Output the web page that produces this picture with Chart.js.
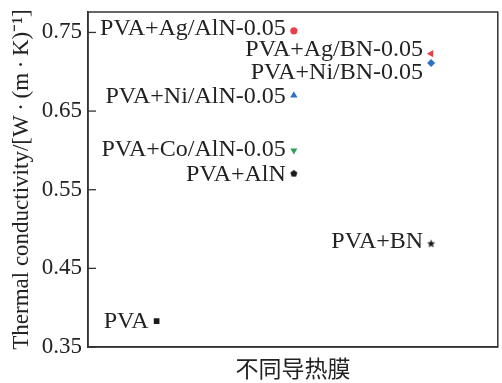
<!DOCTYPE html>
<html>
<head>
<meta charset="utf-8">
<script src="https://cdn.jsdelivr.net/npm/chart.js@4.4.0/dist/chart.umd.min.js"></script>
<style>
html,body{margin:0;padding:0;background:#fff;}
#wrap{width:502px;height:383px;position:relative;}
</style>
</head>
<body>
<div id="wrap"><canvas id="c" width="502" height="383"></canvas></div>
<script>
// ---- data ----
const sampleNames = ["PVA", "PVA+AlN", "PVA+Co/AlN-0.05", "PVA+Ni/AlN-0.05", "PVA+Ag/AlN-0.05", "PVA+BN", "PVA+Ni/BN-0.05", "PVA+Ag/BN-0.05"];
const groupIndex = [1, 2, 2, 2, 2, 3, 3, 3];
const conductivity = [0.383, 0.571, 0.600, 0.670, 0.752, 0.482, 0.711, 0.723];
const yTickValues = [0.35, 0.45, 0.55, 0.65, 0.75];
const yAxisTitle = "Thermal conductivity/[W\u2009·\u2009(m\u2009·\u2009K)\u207B\u00B9]";
const xAxisTitle = "不同导热膜";

// ---- styles ----
const markerColors = ["#1a1a1a", "#1a1a1a", "#2e9e5b", "#2b72c2", "#e8414a", "#1a1a1a", "#2b72c2", "#e8414a"];
const labelDy = [1, 1, -1, 1, -2, -1, 10, -4];

function makeShape(kind, color, size) {
  const c = document.createElement('canvas');
  c.width = size; c.height = size;
  const g = c.getContext('2d');
  g.fillStyle = color;
  const cx = size / 2, cy = size / 2;
  g.beginPath();
  if (kind === 'pentagon') {
    const r = size / 2 - 0.3;
    for (let i = 0; i < 5; i++) {
      const a = -Math.PI / 2 + i * 2 * Math.PI / 5;
      const px = cx + r * Math.cos(a), py = cy + r * Math.sin(a) + 0.4;
      if (i === 0) g.moveTo(px, py); else g.lineTo(px, py);
    }
  } else if (kind === 'star') {
    const R = size / 2 - 0.2, r = R * 0.45;
    for (let i = 0; i < 10; i++) {
      const a = -Math.PI / 2 + i * Math.PI / 5;
      const rr = i % 2 === 0 ? R : r;
      const px = cx + rr * Math.cos(a), py = cy + rr * Math.sin(a) + 0.5;
      if (i === 0) g.moveTo(px, py); else g.lineTo(px, py);
    }
  }
  g.closePath();
  g.fill();
  return c;
}

const pointStyles = ['rect', makeShape('pentagon', '#1a1a1a', 8), 'triangle', 'triangle', 'circle', makeShape('star', '#1a1a1a', 9), 'rectRot', 'triangle'];
const pointRotations = [0, 0, 180, 0, 0, 0, 0, -90];
const pointRadii = [4, 4, 4, 4.2, 3.6, 4, 4, 4.2];

const datasets = sampleNames.map((name, i) => ({
  label: name,
  data: [{x: groupIndex[i], y: conductivity[i]}],
  pointStyle: pointStyles[i],
  rotation: pointRotations[i],
  pointRadius: pointRadii[i],
  backgroundColor: markerColors[i],
  borderColor: markerColors[i],
  borderWidth: 0,
  showLine: false
}));

const SERIF = "'Liberation Serif','Times New Roman',serif";

const decor = {
  id: 'decor',
  afterDatasetsDraw(chart) {
    const ctx = chart.ctx;
    const a = chart.chartArea;
    const xs = chart.scales.x, ys = chart.scales.y;
    ctx.save();
    // frame
    ctx.strokeStyle = '#333';
    ctx.lineWidth = 1.5;
    ctx.strokeRect(a.left, a.top, a.right - a.left, a.bottom - a.top);
    // inward ticks
    ctx.lineWidth = 1.3;
    yTickValues.forEach(v => {
      const py = ys.getPixelForValue(v);
      ctx.beginPath();
      ctx.moveTo(a.left, py);
      ctx.lineTo(a.left + 8, py);
      ctx.stroke();
    });
    // point labels
    ctx.fillStyle = '#222';
    ctx.font = "24px " + SERIF;
    ctx.textAlign = 'right';
    ctx.textBaseline = 'middle';
    sampleNames.forEach((name, i) => {
      const px = xs.getPixelForValue(groupIndex[i]);
      const py = ys.getPixelForValue(conductivity[i]);
      ctx.fillText(name, px - 8, py + labelDy[i]);
    });
    ctx.restore();
  }
};

new Chart(document.getElementById('c'), {
  type: 'scatter',
  data: { datasets },
  plugins: [decor],
  options: {
    responsive: false,
    animation: false,
    devicePixelRatio: 1,
    layout: { padding: { top: 12, right: 2, left: 0, bottom: 0 } },
    plugins: { legend: { display: false }, tooltip: { enabled: false } },
    scales: {
      x: {
        type: 'linear',
        min: 0.5, max: 3.486,
        grid: { display: false, drawTicks: false },
        border: { display: true, color: '#333', width: 1.5 },
        ticks: { display: false },
        title: { display: true, text: xAxisTitle, color: '#222', font: { family: "'Noto Sans CJK SC'", size: 23, weight: 'normal' }, padding: { top: 0, bottom: 1 } },
        afterFit(s) { s.height = 36; s.paddingLeft = 0; s.paddingRight = 0; }
      },
      y: {
        type: 'linear',
        min: 0.35, max: 0.776,
        grid: { display: false, drawTicks: false },
        border: { display: true, color: '#333', width: 1.5 },
        afterBuildTicks(s) { s.ticks = yTickValues.map(v => ({ value: v })); },
        ticks: { color: '#222', padding: 6, font: { family: SERIF, size: 23 }, callback: v => v.toFixed(2) },
        title: { display: true, text: yAxisTitle, color: '#222', font: { family: SERIF, size: 23 }, padding: { top: 8, bottom: 0 } },
        afterFit(s) { s.width = 88; s.paddingTop = 0; s.paddingBottom = 0; }
      }
    }
  }
});
</script>
</body>
</html>
